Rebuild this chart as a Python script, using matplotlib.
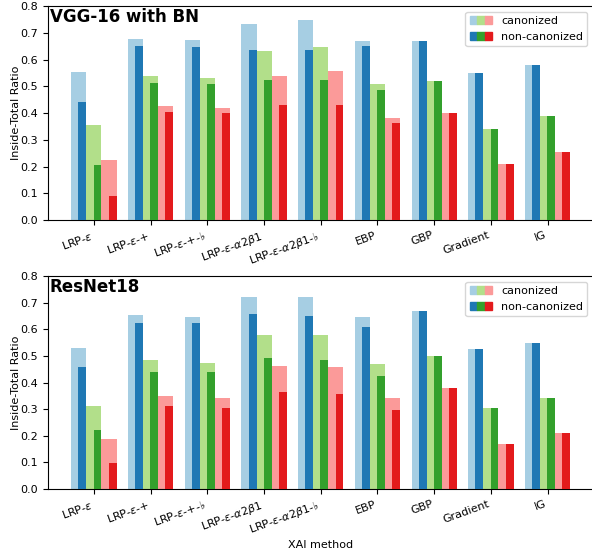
import numpy as np
import matplotlib.pyplot as plt
from matplotlib.patches import Patch
from matplotlib.legend_handler import HandlerTuple

methods = [r"LRP-$\varepsilon$", r"LRP-$\varepsilon$-+", r"LRP-$\varepsilon$-+-$\flat$",
           r"LRP-$\varepsilon$-$\alpha2\beta1$", r"LRP-$\varepsilon$-$\alpha2\beta1$-$\flat$",
           "EBP", "GBP", "Gradient", "IG"]

# VGG-16 with BN
vgg_blue_can = [0.553, 0.677, 0.673, 0.733, 0.748, 0.669, 0.669, 0.550, 0.579]
vgg_blue_non = [0.441, 0.650, 0.647, 0.636, 0.636, 0.650, 0.669, 0.550, 0.579]
vgg_green_can = [0.355, 0.538, 0.531, 0.632, 0.647, 0.508, 0.520, 0.340, 0.389]
vgg_green_non = [0.206, 0.512, 0.508, 0.523, 0.523, 0.486, 0.520, 0.340, 0.389]
vgg_red_can = [0.224, 0.426, 0.419, 0.538, 0.557, 0.381, 0.400, 0.209, 0.254]
vgg_red_non = [0.090, 0.404, 0.400, 0.430, 0.430, 0.363, 0.400, 0.209, 0.254]

# ResNet18
res_blue_can = [0.528, 0.655, 0.648, 0.722, 0.722, 0.646, 0.668, 0.527, 0.548]
res_blue_non = [0.460, 0.625, 0.622, 0.657, 0.650, 0.610, 0.668, 0.527, 0.548]
res_green_can = [0.312, 0.485, 0.475, 0.578, 0.578, 0.470, 0.500, 0.305, 0.343]
res_green_non = [0.220, 0.440, 0.440, 0.492, 0.485, 0.425, 0.500, 0.305, 0.343]
res_red_can = [0.186, 0.350, 0.340, 0.462, 0.460, 0.340, 0.380, 0.170, 0.210]
res_red_non = [0.097, 0.310, 0.305, 0.365, 0.358, 0.295, 0.380, 0.170, 0.210]

light = ["#a6cee3", "#b2df8a", "#fb9a99"]
dark = ["#1f78b4", "#33a02c", "#e31a1c"]

plt.rcParams["font.size"] = 8

fig = plt.figure(figsize=(5.92, 5.5), dpi=100)
ax1 = fig.add_axes([48 / 592, 0.6, 545 / 592, 0.389])
ax2 = fig.add_axes([48 / 592, 0.111, 545 / 592, 0.387])

x = np.arange(len(methods))
w = 0.8 / 3
dw = 0.14


def draw(ax, can, non, title):
    for i in range(3):
        off = (i - 1) * w
        ax.bar(x + off, can[i], w, color=light[i], zorder=2)
        ax.bar(x + off + (w - dw) / 2, non[i], dw, color=dark[i], zorder=3)
    ax.set_ylim(0, 0.8)
    ax.set_xlim(-0.81, 8.80)
    ax.set_xticks(x)
    ax.set_xticklabels(methods, rotation=20, ha="right")
    ax.set_ylabel("Inside-Total Ratio", labelpad=0)
    ax.text(0.003, 0.99, title, transform=ax.transAxes, fontsize=12,
            fontweight="bold", va="top", ha="left")
    h_can = tuple(Patch(color=c) for c in light)
    h_non = tuple(Patch(color=c) for c in dark)
    ax.legend([h_can, h_non], ["canonized", "non-canonized"],
              handler_map={tuple: HandlerTuple(ndivide=None, pad=0)},
              loc="upper right", fontsize=8)


draw(ax1, [vgg_blue_can, vgg_green_can, vgg_red_can],
     [vgg_blue_non, vgg_green_non, vgg_red_non], "VGG-16 with BN")
draw(ax2, [res_blue_can, res_green_can, res_red_can],
     [res_blue_non, res_green_non, res_red_non], "ResNet18")
ax2.set_xlabel("XAI method", labelpad=2)

fig.savefig("out.png", dpi=100)
